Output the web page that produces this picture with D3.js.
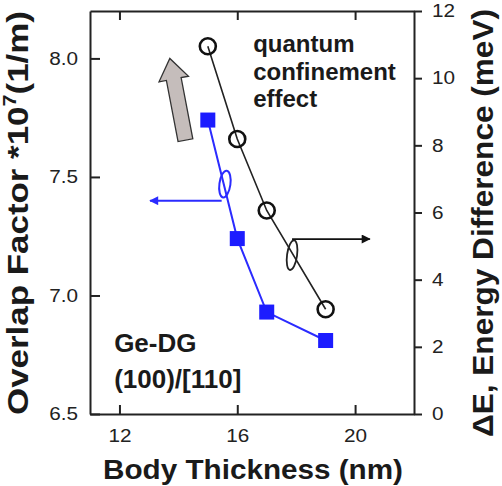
<!DOCTYPE html>
<html><head><meta charset="utf-8">
<script src="https://cdn.jsdelivr.net/npm/d3@7"></script>
<style>
html,body{margin:0;padding:0;background:#fff;}
text{font-family:"Liberation Sans",Arial,sans-serif;}
</style></head>
<body>
<script>
// ---- data ----
const thickness = [15, 16, 17, 19];                 // nm
const overlapFactor = [7.74, 7.24, 6.93, 6.81];     // x 10^7 (1/m), left axis
const energyDiff = [10.95, 8.19, 6.06, 3.12];       // meV, right axis
const xTicks = [12, 16, 20];
const yLeftTicks = [6.5, 7.0, 7.5, 8.0];
const yRightTicks = [0, 2, 4, 6, 8, 10, 12];
const noteLines = ["quantum", "confinement", "effect"];
const deviceLines = ["Ge-DG", "(100)/[110]"];

const W = 502, H = 486;
const svg = d3.select("body").append("svg").attr("width", W).attr("height", H);

const x = d3.scaleLinear().domain([11, 22]).range([90, 414]);
const yL = d3.scaleLinear().domain([6.5, 8.2]).range([414, 11]);
const yR = d3.scaleLinear().domain([0, 12]).range([414, 11]);

function stretch(sel, f) {
  sel.each(function () {
    const w = this.getComputedTextLength();
    d3.select(this).attr("textLength", w * f).attr("lengthAdjust", "spacingAndGlyphs");
  });
}
function styleAxis(g) {
  g.selectAll("path.domain").attr("stroke", "#222").attr("stroke-width", 2);
  g.selectAll(".tick line").attr("stroke", "#222").attr("stroke-width", 2);
  g.selectAll(".tick text").attr("font-size", 18).attr("fill", "#222")
    .style("font-family", "'Liberation Sans', Arial, sans-serif");
}

// axes
const gB = svg.append("g").attr("transform", "translate(0,414)")
  .call(d3.axisBottom(x).tickValues(xTicks).tickSizeInner(-9).tickSizeOuter(0).tickPadding(15));
const gT = svg.append("g").attr("transform", "translate(0,11)")
  .call(d3.axisTop(x).tickValues(xTicks).tickSizeInner(-9).tickSizeOuter(0).tickFormat(""));
const gL = svg.append("g").attr("transform", "translate(90,0)")
  .call(d3.axisLeft(yL).tickValues(yLeftTicks).tickFormat(d3.format(".1f")).tickSizeInner(-10).tickSizeOuter(0).tickPadding(12));
const gR = svg.append("g").attr("transform", "translate(414,0)")
  .call(d3.axisRight(yR).tickValues(yRightTicks).tickSizeInner(8).tickSizeOuter(0).tickPadding(10));
[gB, gT, gL, gR].forEach(styleAxis);
[gB, gL, gR].forEach(g => stretch(g.selectAll(".tick text"), 1.15));

// markers
const defs = svg.append("defs");
function arrowMarker(id, color) {
  defs.append("marker").attr("id", id).attr("viewBox", "0 0 10 10")
    .attr("refX", 9).attr("refY", 5).attr("markerWidth", 11).attr("markerHeight", 9)
    .attr("markerUnits", "userSpaceOnUse").attr("orient", "auto")
    .append("path").attr("d", "M0,0 L10,5 L0,10 Z").attr("fill", color);
}
arrowMarker("arrBlue", "#2b2bff");
arrowMarker("arrBlack", "#111");

// gray "quantum confinement" arrow (annotation, in data units on left axis)
const gray = { base: [14.24, 7.655], tip: [13.71, 8.0] };
{
  const bx = x(gray.base[0]), by = yL(gray.base[1]);
  const tx = x(gray.tip[0]), ty = yL(gray.tip[1]);
  const dx = tx - bx, dy = ty - by, L = Math.hypot(dx, dy);
  const ang = Math.atan2(dx, -dy) * 180 / Math.PI;
  const hw = 7.5, hh = 15, hl = 21;
  const pts = [[-hw, 0], [-hw, -(L - hl)], [-hh, -(L - hl)], [0, -L], [hh, -(L - hl)], [hw, -(L - hl)], [hw, 0]];
  svg.append("path").attr("d", d3.line()(pts) + "Z")
    .attr("transform", `translate(${bx},${by}) rotate(${ang})`)
    .attr("fill", "#c5bdbb").attr("stroke", "#333").attr("stroke-width", 1.3);
}

// series lines
svg.append("path").datum(thickness.map((t, i) => [t, energyDiff[i]]))
  .attr("d", d3.line().x(d => x(d[0])).y(d => yR(d[1])))
  .attr("fill", "none").attr("stroke", "#222").attr("stroke-width", 1.6);
svg.append("path").datum(thickness.map((t, i) => [t, overlapFactor[i]]))
  .attr("d", d3.line().x(d => x(d[0])).y(d => yL(d[1])))
  .attr("fill", "none").attr("stroke", "#2b2bff").attr("stroke-width", 2);

// markers
svg.selectAll("circle.de").data(thickness).join("circle").attr("class", "de")
  .attr("cx", d => x(d)).attr("cy", (d, i) => yR(energyDiff[i])).attr("r", 8)
  .attr("fill", "none").attr("stroke", "#111").attr("stroke-width", 2.6);
const sq = 15;
svg.selectAll("rect.of").data(thickness).join("rect").attr("class", "of")
  .attr("x", d => x(d) - sq / 2).attr("y", (d, i) => yL(overlapFactor[i]) - sq / 2)
  .attr("width", sq).attr("height", sq).attr("fill", "#1c1cff");

// axis-pointer ellipses and arrows
const blueEll = { c: [15.58, 7.47], from: [15.47, 7.40], to: [13.04, 7.40] };
svg.append("ellipse").attr("cx", x(blueEll.c[0])).attr("cy", yL(blueEll.c[1]))
  .attr("rx", 5.5).attr("ry", 13.5)
  .attr("transform", `rotate(8,${x(blueEll.c[0])},${yL(blueEll.c[1])})`)
  .attr("fill", "none").attr("stroke", "#2b2bff").attr("stroke-width", 2);
svg.append("line").attr("x1", x(blueEll.from[0])).attr("y1", yL(blueEll.from[1]))
  .attr("x2", x(blueEll.to[0])).attr("y2", yL(blueEll.to[1]))
  .attr("stroke", "#2b2bff").attr("stroke-width", 2).attr("marker-end", "url(#arrBlue)");

const blackEll = { c: [17.86, 4.73], from: [17.86, 5.21], to: [20.5, 5.21] };
svg.append("ellipse").attr("cx", x(blackEll.c[0])).attr("cy", yR(blackEll.c[1]))
  .attr("rx", 5).attr("ry", 15)
  .attr("transform", `rotate(8,${x(blackEll.c[0])},${yR(blackEll.c[1])})`)
  .attr("fill", "none").attr("stroke", "#222").attr("stroke-width", 1.8);
svg.append("line").attr("x1", x(blackEll.from[0])).attr("y1", yR(blackEll.from[1]))
  .attr("x2", x(blackEll.to[0])).attr("y2", yR(blackEll.to[1]))
  .attr("stroke", "#111").attr("stroke-width", 1.8).attr("marker-end", "url(#arrBlack)");

// in-plot texts
const noteY = [10.78, 9.95, 9.14];
svg.selectAll("text.note").data(noteLines).join("text").attr("class", "note")
  .attr("x", x(16.54)).attr("y", (d, i) => yR(noteY[i]))
  .attr("font-size", 24).attr("font-weight", "bold").attr("fill", "#1a1a1a").text(d => d);
const devY = [6.76, 6.61];
svg.selectAll("text.dev").data(deviceLines).join("text").attr("class", "dev")
  .attr("x", x(11.82)).attr("y", (d, i) => yL(devY[i]))
  .attr("font-size", 26).attr("font-weight", "bold").attr("fill", "#1a1a1a").text(d => d);

// axis titles
const tB = svg.append("text").attr("x", 253).attr("y", 479).attr("text-anchor", "middle")
  .attr("font-size", 28).attr("font-weight", "bold").attr("fill", "#1a1a1a")
  .text("Body Thickness (nm)");
tB.attr("textLength", 300).attr("lengthAdjust", "spacingAndGlyphs");

const tL = svg.append("text").attr("transform", "translate(28,213) rotate(-90)")
  .attr("text-anchor", "middle").attr("font-size", 29).attr("font-weight", "bold").attr("fill", "#1a1a1a");
tL.append("tspan").text("Overlap Factor *10");
tL.append("tspan").attr("font-size", 18).attr("dy", -12).text("7");
tL.append("tspan").attr("dy", 12).text("(1/m)");
tL.attr("textLength", 404).attr("lengthAdjust", "spacingAndGlyphs");

const tR = svg.append("text").attr("transform", "translate(493,223) rotate(-90)")
  .attr("text-anchor", "middle").attr("font-size", 29).attr("font-weight", "bold").attr("fill", "#1a1a1a")
  .text("\u0394E, Energy Difference (meV)");
tR.attr("textLength", 428).attr("lengthAdjust", "spacingAndGlyphs");
</script>
</body></html>
